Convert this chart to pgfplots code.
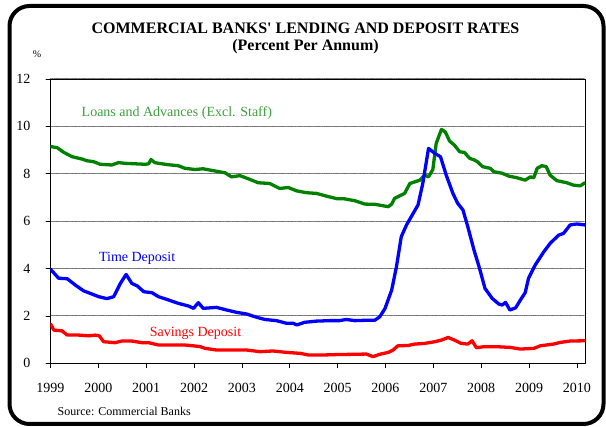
\documentclass[border=0pt]{standalone}
\usepackage{fontspec}
\setmainfont{Liberation Serif}
\usepackage{pgfplots}
\pgfplotsset{compat=1.18}
\definecolor{lgreen}{RGB}{0,128,0}
\definecolor{tgreen}{RGB}{60,160,60}
\begin{document}
\begin{tikzpicture}
\useasboundingbox (0pt,0pt) rectangle (606pt,427pt);
\draw[line width=4pt, rounded corners=20pt] (9.5pt,3pt) rectangle (603.5pt,421pt);
\node[anchor=base, font=\fontsize{16}{16}\selectfont\bfseries] at (305.5pt,393pt) {COMMERCIAL BANKS\textquotesingle{} LENDING AND DEPOSIT RATES};
\node[anchor=base, font=\fontsize{16}{16}\selectfont\bfseries] at (305.5pt,376pt) {(Percent Per Annum)};
\node[font=\fontsize{10}{10}\selectfont] at (37pt,373pt) {\%};
\node[anchor=base west, inner sep=0pt, font=\fontsize{12}{12}\selectfont] at (57.5pt,11pt) {Source: Commercial Banks};
\begin{axis}[
  at={(50.5pt,63.7pt)}, anchor=south west,
  scale only axis, width=534.5pt, height=284.3pt,
  xmin=1999, xmax=2010.17, ymin=0, ymax=12,
  xtick={1999,2000,...,2010}, ytick={0,2,...,12},
  xticklabels={1999,2000,2001,2002,2003,2004,2005,2006,2007,2008,2009,2010},
  minor x tick num=1,
  xtick pos=bottom, ytick pos=left,
  tick align=outside,
  major tick length=4.5pt, minor tick length=4.5pt,
  tick style={black, line width=0.7pt},
  axis line style={line width=0.8pt},
  ymajorgrids,
  major grid style={black!55, line width=1pt, dash pattern=on 0.9pt off 0.9pt},
  /pgf/number format/assume math mode=true,
  tick label style={font=\fontsize{14}{14}\selectfont},
  yticklabel style={xshift=-12pt},
  xticklabel style={yshift=-12pt},
  line join=round, line cap=round,
]
\addplot[lgreen, line width=3.3pt] coordinates {
(1999.00,9.15)(1999.14,9.10)(1999.28,8.90)(1999.45,8.72)(1999.66,8.62)(1999.76,8.55)(1999.90,8.51)
(2000.04,8.40)(2000.28,8.37)(2000.42,8.47)(2000.56,8.44)(2000.77,8.42)(2000.98,8.40)(2001.05,8.42)
(2001.10,8.60)(2001.18,8.47)(2001.26,8.44)(2001.47,8.38)(2001.67,8.34)(2001.81,8.23)(2002.02,8.18)
(2002.19,8.21)(2002.40,8.13)(2002.65,8.04)(2002.78,7.87)(2002.96,7.92)(2003.17,7.76)(2003.34,7.62)
(2003.58,7.59)(2003.79,7.38)(2003.97,7.42)(2004.14,7.28)(2004.35,7.20)(2004.56,7.17)(2004.76,7.06)
(2004.98,6.95)(2005.15,6.94)(2005.36,6.86)(2005.57,6.72)(2005.78,6.71)(2006.06,6.61)(2006.13,6.72)
(2006.19,6.96)(2006.40,7.17)(2006.51,7.59)(2006.72,7.73)(2006.82,7.94)(2006.90,7.87)(2006.99,8.18)
(2007.06,9.28)(2007.17,9.87)(2007.25,9.77)(2007.34,9.38)(2007.44,9.21)(2007.55,8.93)(2007.65,8.90)
(2007.76,8.65)(2007.86,8.58)(2007.92,8.51)(2008.03,8.30)(2008.19,8.23)(2008.26,8.09)(2008.44,8.02)
(2008.58,7.90)(2008.75,7.83)(2008.92,7.73)(2009.03,7.87)(2009.10,7.83)(2009.17,8.23)(2009.27,8.34)
(2009.36,8.30)(2009.44,7.94)(2009.58,7.71)(2009.79,7.62)(2009.93,7.52)(2010.07,7.49)(2010.17,7.62)
};
\addplot[blue, line width=3.3pt] coordinates {
(1999.00,3.97)(1999.17,3.59)(1999.35,3.57)(1999.52,3.30)(1999.69,3.06)(1999.87,2.92)(2000.01,2.81)
(2000.18,2.73)(2000.32,2.81)(2000.46,3.37)(2000.58,3.75)(2000.70,3.37)(2000.81,3.27)(2000.95,3.02)
(2001.12,2.98)(2001.26,2.81)(2001.47,2.67)(2001.67,2.53)(2001.88,2.42)(2001.99,2.32)(2002.09,2.56)
(2002.19,2.32)(2002.47,2.36)(2002.68,2.25)(2002.89,2.15)(2003.10,2.08)(2003.31,1.94)(2003.48,1.85)
(2003.72,1.80)(2003.93,1.69)(2004.07,1.69)(2004.15,1.62)(2004.31,1.73)(2004.56,1.78)(2004.83,1.80)
(2005.04,1.80)(2005.18,1.85)(2005.36,1.80)(2005.64,1.82)(2005.78,1.82)(2005.88,1.96)(2005.99,2.31)
(2006.13,3.09)(2006.23,4.08)(2006.33,5.34)(2006.44,5.84)(2006.58,6.33)(2006.68,6.68)(2006.78,7.59)
(2006.90,9.07)(2007.03,8.86)(2007.15,8.72)(2007.27,7.94)(2007.41,7.17)(2007.51,6.75)(2007.62,6.47)
(2007.72,5.77)(2007.85,4.78)(2007.96,4.05)(2008.08,3.16)(2008.23,2.74)(2008.37,2.50)(2008.44,2.46)
(2008.51,2.57)(2008.60,2.25)(2008.72,2.34)(2008.82,2.67)(2008.92,2.98)(2008.99,3.59)(2009.13,4.15)
(2009.31,4.71)(2009.44,5.06)(2009.62,5.41)(2009.72,5.48)(2009.86,5.84)(2010.00,5.88)(2010.17,5.84)
};
\addplot[red, line width=3.3pt] coordinates {
(1999.00,1.66)(1999.07,1.40)(1999.24,1.37)(1999.35,1.19)(1999.59,1.19)(1999.80,1.16)(1999.94,1.19)
(2000.02,1.16)(2000.11,0.91)(2000.35,0.87)(2000.49,0.94)(2000.70,0.94)(2000.91,0.87)(2001.05,0.87)
(2001.26,0.77)(2001.53,0.77)(2001.81,0.77)(2002.02,0.73)(2002.13,0.70)(2002.23,0.63)(2002.47,0.56)
(2002.75,0.56)(2003.10,0.56)(2003.38,0.49)(2003.65,0.52)(2003.93,0.46)(2004.22,0.42)(2004.39,0.35)
(2004.70,0.35)(2005.02,0.37)(2005.36,0.38)(2005.60,0.39)(2005.74,0.28)(2005.88,0.38)(2006.06,0.46)
(2006.16,0.56)(2006.26,0.74)(2006.47,0.75)(2006.61,0.81)(2006.82,0.84)(2007.03,0.91)(2007.17,0.98)
(2007.31,1.09)(2007.44,0.98)(2007.58,0.84)(2007.72,0.81)(2007.81,0.95)(2007.90,0.66)(2008.06,0.70)
(2008.33,0.70)(2008.61,0.67)(2008.82,0.60)(2009.10,0.63)(2009.24,0.74)(2009.51,0.81)(2009.65,0.88)
(2009.86,0.94)(2010.17,0.95)
};
\node[text=tgreen, font=\fontsize{14}{14}\selectfont] at (axis cs:2001.64,10.57) {Loans and Advances (Excl. Staff)};
\node[text=blue, font=\fontsize{14}{14}\selectfont] at (axis cs:2000.81,4.43) {Time Deposit};
\node[text=red, font=\fontsize{14}{14}\selectfont] at (axis cs:2002.03,1.28) {Savings Deposit};
\end{axis}
\end{tikzpicture}
\end{document}
